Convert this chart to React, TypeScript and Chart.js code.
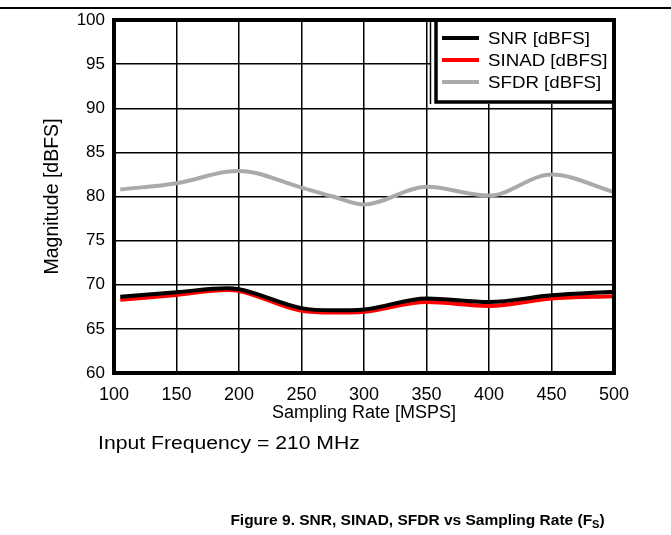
import React, { useEffect, useRef } from "react";
import { Chart, registerables } from "chart.js";

Chart.register(...registerables);

const rates = [105, 150, 190, 200, 250, 275, 300, 350, 400, 450, 500];
const snr = [68.65, 69.15, 69.6, 69.5, 67.35, 67.1, 67.2, 68.45, 68.05, 68.8, 69.2];
const sinad = [68.3, 68.85, 69.4, 69.3, 67.05, 66.85, 66.95, 68.05, 67.6, 68.45, 68.7];
const sfdr = [80.8, 81.5, 82.8, 82.9, 81.0, 80.0, 79.1, 81.1, 80.1, 82.5, 80.5];

const seriesLabels = ["SNR [dBFS]", "SINAD [dBFS]", "SFDR [dBFS]"];
const seriesColors = ["#000000", "#ff0000", "#aaaaaa"];
const xTitle = "Sampling Rate [MSPS]";
const yTitle = "Magnitude [dBFS]";
const noteText = "Input Frequency = 210 MHz";

const FONT = "'Liberation Sans', Arial, sans-serif";

const framePlugin = {
  id: "frame",
  afterDraw(chart: any) {
    const { ctx, chartArea: a } = chart;
    ctx.save();
    // legend box
    const lx = 436;
    const ly = a.top;
    const lw = a.right - lx;
    const lh = 82;
    ctx.fillStyle = "#fff";
    ctx.fillRect(431, ly, a.right - 431, lh + 2);
    ctx.strokeStyle = "#000";
    ctx.lineWidth = 1.5;
    ctx.beginPath();
    ctx.moveTo(430.5, ly);
    ctx.lineTo(430.5, ly + lh + 2);
    ctx.stroke();
    ctx.lineWidth = 3.5;
    ctx.strokeRect(lx, ly, lw, lh);
    chart.data.datasets.forEach((ds: any, i: number) => {
      const y = ly + 18 + i * 22;
      ctx.strokeStyle = ds.borderColor;
      ctx.lineWidth = 4;
      ctx.beginPath();
      ctx.moveTo(442, y);
      ctx.lineTo(479, y);
      ctx.stroke();
      ctx.save();
      ctx.translate(488, y + 1);
      ctx.scale(1.1, 1);
      ctx.font = `17px ${FONT}`;
      ctx.textBaseline = "middle";
      ctx.textAlign = "left";
      ctx.fillStyle = "#000";
      ctx.fillText(ds.label, 0, 0);
      ctx.restore();
    });
    // plot frame
    ctx.lineWidth = 4;
    ctx.strokeStyle = "#000";
    ctx.strokeRect(a.left, a.top, a.right - a.left, a.bottom - a.top);
    ctx.restore();
  },
};

export default function App() {
  const ref = useRef<HTMLCanvasElement>(null);
  useEffect(() => {
    if (!ref.current) return;
    const mk = (vals: number[]) => vals.map((v, i) => ({ x: rates[i], y: v }));
    const chart = new Chart(ref.current, {
      type: "line",
      data: {
        datasets: [snr, sinad, sfdr].map((vals, i) => ({
          label: seriesLabels[i],
          data: mk(vals),
          borderColor: seriesColors[i],
          backgroundColor: seriesColors[i],
          borderWidth: 4,
          pointRadius: 0,
          cubicInterpolationMode: "monotone" as const,
          fill: false,
        })),
      },
      options: {
        responsive: false,
        animation: false,
        events: [],
        layout: { padding: { top: 20, right: 57, bottom: 111, left: 0 } },
        plugins: { legend: { display: false }, tooltip: { enabled: false } },
        scales: {
          x: {
            type: "linear",
            min: 100,
            max: 500,
            ticks: { stepSize: 50, padding: 11, color: "#000", font: { family: FONT, size: 18 }, maxRotation: 0 },
            grid: { color: "#000", lineWidth: 1.5, drawTicks: false },
            border: { display: false },
            title: { display: true, text: xTitle, color: "#000", font: { family: FONT, size: 18 }, padding: 0 },
            afterFit: (s: any) => {
              s.height = 51;
            },
          },
          y: {
            min: 60,
            max: 100,
            ticks: { stepSize: 5, padding: 9, color: "#000", font: { family: FONT, size: 17 } },
            grid: { color: "#000", lineWidth: 1.5, drawTicks: false },
            border: { display: false },
            title: { display: true, text: yTitle, color: "#000", font: { family: FONT, size: 19.5 }, padding: { top: 41, bottom: 0 } },
            afterFit: (s: any) => {
              s.width = 114;
            },
          },
        },
      },
      plugins: [framePlugin],
    });
    return () => chart.destroy();
  }, []);

  return (
    <div style={{ position: "absolute", left: 0, top: 0, width: 671, height: 535, background: "#fff", fontFamily: FONT }}>
      <div style={{ position: "absolute", left: 0, top: 7, width: 671, height: 1.5, background: "#000" }} />
      <canvas ref={ref} width={671} height={535} style={{ position: "absolute", left: 0, top: 0, display: "block" }} />
      <div style={{ position: "absolute", left: 98, top: 433, fontSize: 17.5, lineHeight: "20px", whiteSpace: "nowrap", color: "#000", transform: "scaleX(1.21)", transformOrigin: "0 50%" }}>
        {noteText}
      </div>
      <div style={{ position: "absolute", left: 0, width: 835, top: 510, fontSize: 15.5, lineHeight: "20px", fontWeight: "bold", textAlign: "center", whiteSpace: "nowrap", color: "#000" }}>
        Figure 9. SNR, SINAD, SFDR vs Sampling Rate (F<sub style={{ fontSize: 11, verticalAlign: "-3px", lineHeight: 0 }}>S</sub>)
      </div>
    </div>
  );
}
